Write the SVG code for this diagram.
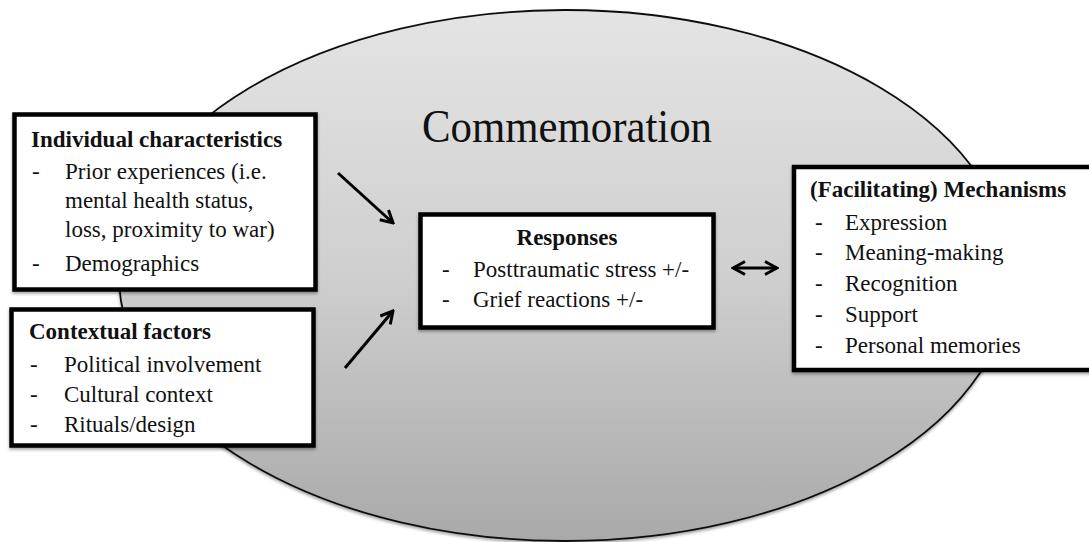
<svg xmlns="http://www.w3.org/2000/svg" width="1089" height="542" viewBox="0 0 1089 542" font-family="Liberation Serif, DejaVu Serif, serif">
<style>
.t{font-family:"Liberation Serif","DejaVu Serif",serif;font-size:23px;fill:#111}
.b{font-weight:bold}
.big{font-size:46px}
.box{fill:#fff;stroke:#000;stroke-width:4.5}
.conn{stroke:#000;stroke-width:3;fill:none}
</style>
<defs>
<linearGradient id="g" x1="0" y1="0" x2="0" y2="1">
<stop offset="0" stop-color="#e4e4e4"/>
<stop offset="0.5" stop-color="#cfcfcf"/>
<stop offset="1" stop-color="#a9a9a9"/>
</linearGradient>
<filter id="sh" x="-5%" y="-5%" width="110%" height="110%">
<feDropShadow dx="0" dy="2" stdDeviation="1.5" flood-color="#000" flood-opacity="0.35"/>
</filter>
<marker id="ah" viewBox="0 0 16 16" refX="14" refY="8" markerWidth="16" markerHeight="16" markerUnits="userSpaceOnUse" orient="auto-start-reverse">
<path d="M2,1.5 L14,8 L2,14.5" fill="none" stroke="#000" stroke-width="3"/>
</marker>
</defs>
<rect width="1089" height="542" fill="#fff"/>
<g id="commemoration">
<ellipse cx="565" cy="275.5" rx="446" ry="265.5" fill="url(#g)" stroke="#111" stroke-width="1.8" filter="url(#sh)"/>
<text class="t big" x="567" y="142" text-anchor="middle" textLength="290" lengthAdjust="spacingAndGlyphs">Commemoration</text>
</g>
<g id="connectors">
<line class="conn" x1="338" y1="173" x2="393" y2="223" marker-end="url(#ah)"/>
<line class="conn" x1="345" y1="368" x2="393" y2="311" marker-end="url(#ah)"/>
<line class="conn" x1="733" y1="268" x2="777" y2="268" marker-start="url(#ah)" marker-end="url(#ah)"/>
</g>
<g id="individual">
<rect class="box" x="14.5" y="114.5" width="301" height="175" filter="url(#sh)"/>
<text class="t b" x="31" y="147">Individual characteristics</text>
<text class="t" x="32" y="179">-</text><text class="t" x="65" y="179">Prior experiences (i.e.</text>
<text class="t" x="65" y="208">mental health status,</text>
<text class="t" x="65" y="237">loss, proximity to war)</text>
<text class="t" x="32" y="271">-</text><text class="t" x="65" y="271">Demographics</text>
</g>
<g id="contextual">
<rect class="box" x="11.5" y="309.5" width="302" height="136" filter="url(#sh)"/>
<text class="t b" x="29" y="339">Contextual factors</text>
<text class="t" x="30" y="372">-</text><text class="t" x="64" y="372">Political involvement</text>
<text class="t" x="30" y="402">-</text><text class="t" x="64" y="402">Cultural context</text>
<text class="t" x="30" y="432">-</text><text class="t" x="64" y="432">Rituals/design</text>
</g>
<g id="responses">
<rect class="box" x="420.5" y="214.5" width="293" height="113" filter="url(#sh)"/>
<text class="t b" x="567" y="245" text-anchor="middle">Responses</text>
<text class="t" x="442" y="277">-</text><text class="t" x="473" y="277">Posttraumatic stress +/-</text>
<text class="t" x="442" y="307">-</text><text class="t" x="473" y="307">Grief reactions +/-</text>
</g>
<g id="mechanisms">
<rect class="box" x="794" y="167" width="300" height="203" filter="url(#sh)"/>
<text class="t b" x="810" y="197">(Facilitating) Mechanisms</text>
<text class="t" x="815" y="230">-</text><text class="t" x="845" y="230">Expression</text>
<text class="t" x="815" y="260">-</text><text class="t" x="845" y="260">Meaning-making</text>
<text class="t" x="815" y="291">-</text><text class="t" x="845" y="291">Recognition</text>
<text class="t" x="815" y="322">-</text><text class="t" x="845" y="322">Support</text>
<text class="t" x="815" y="353">-</text><text class="t" x="845" y="353">Personal memories</text>
</g>
</svg>
